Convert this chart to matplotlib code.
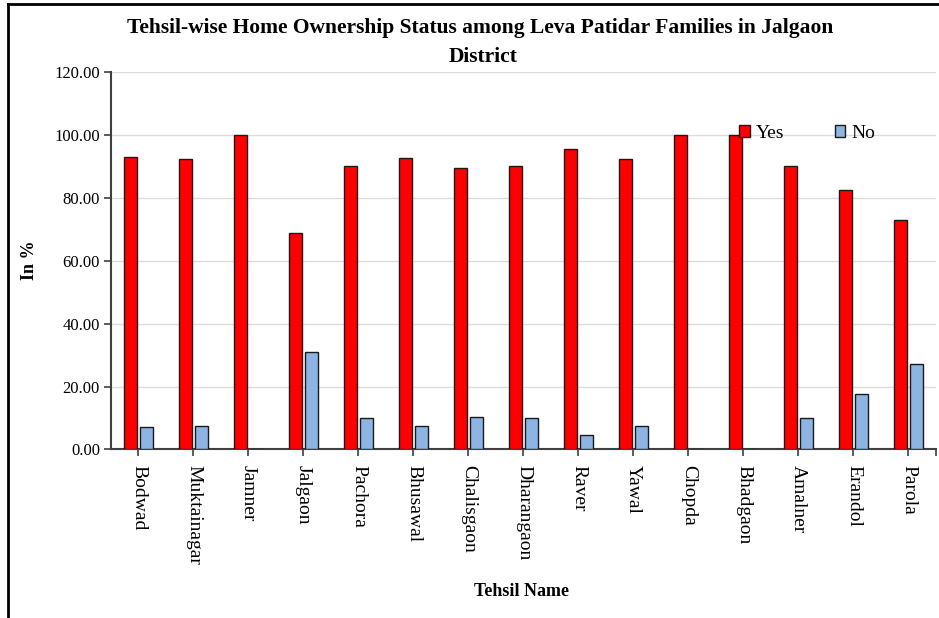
import numpy as np
import matplotlib
matplotlib.use("Agg")
import matplotlib.pyplot as plt
from matplotlib.lines import Line2D

# data
tehsils = ["Bodwad", "Muktainagar", "Jamner", "Jalgaon", "Pachora", "Bhusawal",
           "Chalisgaon", "Dharangaon", "Raver", "Yawal", "Chopda", "Bhadgaon",
           "Amalner", "Erandol", "Parola"]
yes_pct = [92.9, 92.3, 100.0, 68.9, 90.0, 92.6, 89.4, 90.0, 95.4, 92.3,
           100.0, 100.0, 90.0, 82.4, 72.8]
no_pct = [7.1, 7.5, 0.0, 30.9, 10.0, 7.3, 10.4, 10.0, 4.5, 7.5,
          0.0, 0.0, 10.0, 17.6, 27.2]
y_ticks = [0, 20, 40, 60, 80, 100, 120]

plt.rcParams['font.family'] = ['Liberation Serif', 'DejaVu Serif']

fig = plt.figure(figsize=(9.39, 6.18), dpi=100)
ax = fig.add_axes([0.1182, 0.2727, 0.8786, 0.6113])

x = np.arange(len(tehsils))
w = 0.24
off = 0.145
ax.bar(x - off, yes_pct, w, color="#ff0000", edgecolor="#1a1a1a", linewidth=1.0,
       label="Yes", zorder=3)
ax.bar(x + off, no_pct, w, color="#8db4e2", edgecolor="#1a1a1a", linewidth=1.0,
       label="No", zorder=3)

ax.set_xlim(-0.5, len(tehsils) - 0.5)
ax.set_ylim(0, 120)
ax.set_yticks(y_ticks)
ax.set_yticklabels(["%.2f" % v for v in y_ticks], fontsize=12)
ax.set_xticks(x)
ax.set_xticklabels(tehsils, rotation=-90, fontsize=14, va="top", ha="center")
ax.set_xticks([len(tehsils) - 0.5], minor=True)
ax.tick_params(axis="x", which="both", length=5, width=1.2, color="#404040", pad=6)
ax.tick_params(axis="y", length=5, width=1.2, color="#404040", pad=3)

ax.grid(axis="y", color="#dcdcdc", linewidth=1.0, zorder=0)
for s in ["top", "right"]:
    ax.spines[s].set_visible(False)
for s in ["left", "bottom"]:
    ax.spines[s].set_color("#404040")
    ax.spines[s].set_linewidth(1.5)

ax.set_ylabel("In %", fontsize=13, fontweight="bold", labelpad=12)
fig.text(0.555, 1 - 591 / 618, "Tehsil Name", fontsize=13, fontweight="bold",
         ha="center", va="center")

fig.text(480 / 939, 1 - 28 / 618, "Tehsil-wise Home Ownership Status among Leva Patidar Families in Jalgaon",
         fontsize=15.5, fontweight="bold", ha="center", va="center")
fig.text(483 / 939, 1 - 57 / 618, "District",
         fontsize=15.5, fontweight="bold", ha="center", va="center")

ax.legend(loc="upper left", bbox_to_anchor=(0.74, 0.905), ncol=2, frameon=False,
          fontsize=14, handlelength=0.55, handleheight=0.55, handletextpad=0.3,
          columnspacing=2.6)

# figure frame (left and top edges visible)
fig.add_artist(Line2D([8 / 939, 8 / 939], [0, 1 - 4 / 618], color="black", linewidth=2))
fig.add_artist(Line2D([8 / 939, 1], [1 - 4 / 618, 1 - 4 / 618], color="black", linewidth=2))

fig.savefig("out.png", dpi=100)
